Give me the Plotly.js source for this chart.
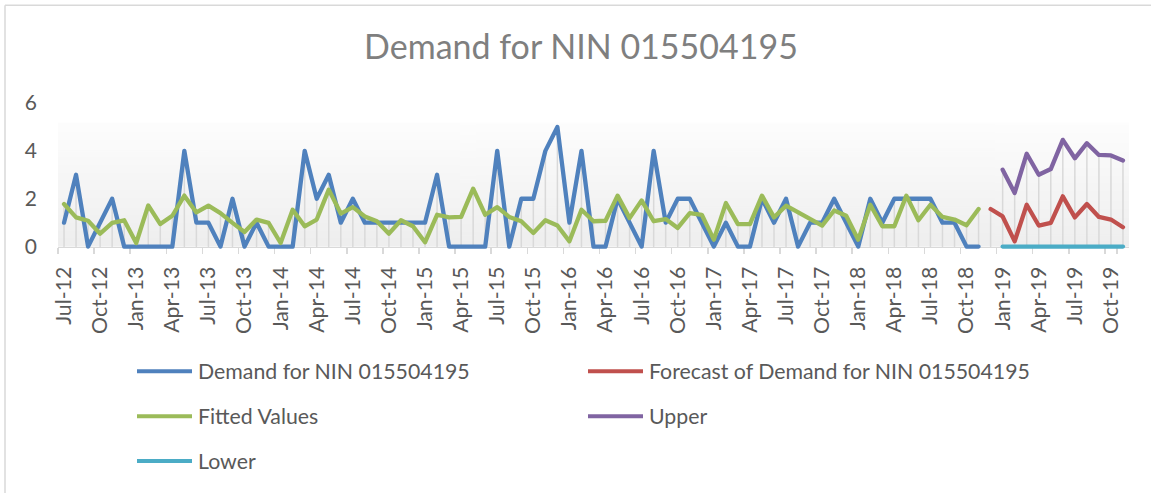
<!DOCTYPE html>
<html>
<head>
<meta charset="utf-8">
<script src="https://cdn.plot.ly/plotly-3.0.1.min.js"></script>
<style>
html, body { margin: 0; padding: 0; background: #ffffff; }
#chart { width: 1151px; height: 493px; }
.scatterlayer .js-line { stroke-linejoin: round; stroke-linecap: round; }
</style>
</head>
<body>
<div id="chart"></div>
<script>
const months = [
  "Jul-12","Aug-12","Sep-12","Oct-12","Nov-12","Dec-12",
  "Jan-13","Feb-13","Mar-13","Apr-13","May-13","Jun-13","Jul-13","Aug-13","Sep-13","Oct-13","Nov-13","Dec-13",
  "Jan-14","Feb-14","Mar-14","Apr-14","May-14","Jun-14","Jul-14","Aug-14","Sep-14","Oct-14","Nov-14","Dec-14",
  "Jan-15","Feb-15","Mar-15","Apr-15","May-15","Jun-15","Jul-15","Aug-15","Sep-15","Oct-15","Nov-15","Dec-15",
  "Jan-16","Feb-16","Mar-16","Apr-16","May-16","Jun-16","Jul-16","Aug-16","Sep-16","Oct-16","Nov-16","Dec-16",
  "Jan-17","Feb-17","Mar-17","Apr-17","May-17","Jun-17","Jul-17","Aug-17","Sep-17","Oct-17","Nov-17","Dec-17",
  "Jan-18","Feb-18","Mar-18","Apr-18","May-18","Jun-18","Jul-18","Aug-18","Sep-18","Oct-18","Nov-18","Dec-18",
  "Jan-19","Feb-19","Mar-19","Apr-19","May-19","Jun-19","Jul-19","Aug-19","Sep-19","Oct-19","Nov-19"
];

// Demand for NIN 015504195 : Jul-12 .. Nov-18
const demand = [1,3,0,1,2,0,0,0,0,0,4,1,1,0,2,0,1,0,0,0,4,2,3,1,2,1,1,1,1,1,1,3,0,0,0,0,4,0,2,2,4,5,1,4,0,0,2,1,0,4,1,2,2,1,0,1,0,0,2,1,2,0,1,1,2,1,0,2,1,2,2,2,2,1,1,0,0];

// Fitted Values : Jul-12 .. Nov-18
const fitted = [1.78,1.22,1.08,0.54,0.99,1.10,0.15,1.72,0.94,1.29,2.13,1.43,1.71,1.40,0.99,0.61,1.13,0.99,0.15,1.54,0.85,1.13,2.38,1.38,1.65,1.26,1.06,0.54,1.10,0.85,0.18,1.33,1.22,1.24,2.42,1.33,1.65,1.24,1.06,0.57,1.10,0.88,0.22,1.54,1.06,1.08,2.13,1.19,1.93,1.06,1.15,0.78,1.40,1.33,0.29,1.82,0.94,0.94,2.13,1.22,1.71,1.43,1.13,0.88,1.51,1.29,0.29,1.75,0.85,0.85,2.13,1.10,1.75,1.24,1.13,0.89,1.57];

// Forecast : Dec-18 .. Nov-19
const forecast = [1.57,1.26,0.22,1.75,0.88,0.99,2.10,1.22,1.78,1.24,1.13,0.81];
// Upper / Lower : Jan-19 .. Nov-19
const upper = [3.21,2.24,3.88,3.00,3.24,4.46,3.69,4.32,3.83,3.81,3.60];
const lower = [0,0,0,0,0,0,0,0,0,0,0];

const tickLabels = ["Jul-12","Oct-12","Jan-13","Apr-13","Jul-13","Oct-13","Jan-14","Apr-14","Jul-14","Oct-14",
  "Jan-15","Apr-15","Jul-15","Oct-15","Jan-16","Apr-16","Jul-16","Oct-16","Jan-17","Apr-17",
  "Jul-17","Oct-17","Jan-18","Apr-18","Jul-18","Oct-18","Jan-19","Apr-19","Jul-19","Oct-19"];
const yTicks = [0, 2, 4, 6];

const names = ["Demand for NIN 015504195","Forecast of Demand for NIN 015504195","Fitted Values","Upper","Lower"];
const colors = ["#4F81BD","#C0504D","#9BBB59","#8064A2","#4BACC6"];

// x categories for each series
const xDemand = months.slice(0, demand.length);
const xFitted = months.slice(0, fitted.length);
const xForecast = months.slice(months.length - forecast.length);
const xUpper = months.slice(months.length - upper.length);
const xLower = months.slice(months.length - lower.length);

// drop lines: from axis up to the highest series value at each category
const seriesMap = [[xDemand, demand],[xFitted, fitted],[xForecast, forecast],[xUpper, upper],[xLower, lower]];
const dropX = [], dropY = [];
months.forEach(m => {
  let mx = null;
  seriesMap.forEach(([xs, ys]) => {
    const k = xs.indexOf(m);
    if (k >= 0 && ys[k] !== null) mx = (mx === null) ? ys[k] : Math.max(mx, ys[k]);
  });
  if (mx !== null) { dropX.push(m, m, null); dropY.push(0, mx, null); }
});

const lineW = 4.3;
const traces = [
  { x: dropX, y: dropY, type: "scatter", mode: "lines", line: {color: "#d9d9d9", width: 1.5}, hoverinfo: "skip", showlegend: false },
  { x: xDemand, y: demand, name: names[0], type: "scatter", mode: "lines", line: {color: colors[0], width: lineW}, showlegend: false },
  { x: xForecast, y: forecast, name: names[1], type: "scatter", mode: "lines", line: {color: colors[1], width: lineW}, showlegend: false },
  { x: xFitted, y: fitted, name: names[2], type: "scatter", mode: "lines", line: {color: colors[2], width: lineW}, showlegend: false },
  { x: xUpper, y: upper, name: names[3], type: "scatter", mode: "lines", line: {color: colors[3], width: lineW}, showlegend: false },
  { x: xLower, y: lower, name: names[4], type: "scatter", mode: "lines", line: {color: colors[4], width: lineW}, showlegend: false }
];

// geometry (pixels)
const W = 1151, H = 493;
const yMin = -0.1, yMax = 6;
const unitPx = 24;               // pixels per unit on the value axis
const zeroPx = 247;              // pixel row of value 0
const mT = zeroPx - yMax * unitPx;
const plotBottom = zeroPx - yMin * unitPx;
const mL = 58, mR = 22, mB = H - plotBottom;
const pw = W - mL - mR, ph = plotBottom - mT;
const px = v => (v - mL) / pw;
const py = v => (plotBottom - v) / ph;

// manual legend (two columns)
const legendPos = [
  [137, 372], [588, 372],
  [137, 417], [588, 417],
  [137, 462]
];
const shapes = [];
const annotations = [];
legendPos.forEach((p, i) => {
  shapes.push({ type: "line", xref: "paper", yref: "paper",
    x0: px(p[0]), x1: px(p[0] + 55), y0: py(p[1]), y1: py(p[1]),
    line: {color: colors[i], width: 4} });
  annotations.push({ xref: "paper", yref: "paper", x: px(p[0] + 59), y: py(p[1]),
    xanchor: "left", yanchor: "middle", showarrow: false, text: names[i],
    font: {family: "Lato, 'Open Sans', sans-serif", size: 21.3, color: "#595959"} });
});
// chart border (top and left edges)
shapes.push({ type: "line", xref: "paper", yref: "paper", x0: px(5), x1: px(W + 5), y0: py(5), y1: py(5), line: {color: "#d9d9d9", width: 1.5} });
shapes.push({ type: "line", xref: "paper", yref: "paper", x0: px(5), x1: px(5), y0: py(5), y1: py(H + 5), line: {color: "#d9d9d9", width: 1.5} });

// gradient fill for the plot area
const cv = document.createElement("canvas");
cv.width = 4; cv.height = 128;
const ctx = cv.getContext("2d");
const g = ctx.createLinearGradient(0, 0, 0, 128);
g.addColorStop(0, "#fdfdfd");
g.addColorStop(1, "#eeeeee");
ctx.fillStyle = g;
ctx.fillRect(0, 0, 4, 128);
const gradTop = (zeroPx - 123) / unitPx;

const layout = {
  width: W, height: H,
  margin: {l: mL, r: mR, t: mT, b: mB, pad: 0},
  paper_bgcolor: "#ffffff",
  plot_bgcolor: "rgba(0,0,0,0)",
  font: {family: "Lato, 'Open Sans', sans-serif", color: "#595959", size: 20},
  title: {
    text: "Demand for NIN 015504195",
    font: {family: "Lato, 'Open Sans', sans-serif", size: 34, color: "#7f7f7f"},
    xref: "container", yref: "container", x: 581 / W, y: 1 - 47 / H, xanchor: "center", yanchor: "middle"
  },
  showlegend: false,
  xaxis: {
    type: "category", categoryorder: "array", categoryarray: months,
    range: [-0.5, months.length - 0.5],
    anchor: "free", position: (plotBottom - zeroPx) / ph,
    tickmode: "array", tickvals: tickLabels, ticktext: tickLabels,
    tickangle: -90, ticks: "outside", ticklen: 6, tickwidth: 1.5, tickcolor: "#d9d9d9",
    tickson: "boundaries", ticklabelstandoff: 10,
    showline: true, linecolor: "#d9d9d9", linewidth: 1.5, layer: "below traces",
    showgrid: false, zeroline: false,
    tickfont: {family: "Lato, 'Open Sans', sans-serif", size: 21.3, color: "#595959"}
  },
  yaxis: {
    range: [yMin, yMax], tickmode: "array", tickvals: yTicks, ticktext: yTicks.map(String),
    showgrid: false, zeroline: false, showline: false, ticks: "",
    ticklabelstandoff: 20,
    tickfont: {family: "Lato, 'Open Sans', sans-serif", size: 21, color: "#595959"}
  },
  images: [{
    source: cv.toDataURL("image/png"), xref: "paper", yref: "y",
    x: 0, y: gradTop, sizex: 1, sizey: gradTop, xanchor: "left", yanchor: "top",
    sizing: "stretch", layer: "below"
  }],
  shapes: shapes,
  annotations: annotations
};

Plotly.newPlot("chart", traces, layout, {displayModeBar: false, staticPlot: true});
</script>
</body>
</html>
